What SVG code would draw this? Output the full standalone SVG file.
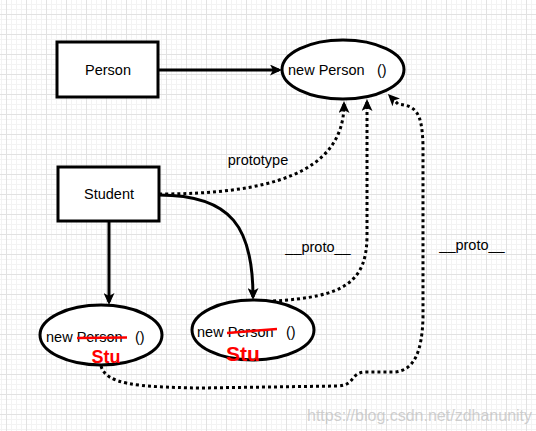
<svg xmlns="http://www.w3.org/2000/svg" width="536" height="431" viewBox="0 0 536 431">
<style>
.box{fill:#fff;stroke:#000;stroke-width:3}
.ell{fill:#fff;stroke:#000;stroke-width:3}
.lbl{font-family:"Liberation Sans",Arial,sans-serif;font-size:14.5px;fill:#000}
.solid{fill:none;stroke:#000;stroke-width:3}
.dot{fill:none;stroke:#000;stroke-width:3;stroke-dasharray:3 3}
.red{stroke:#f00;stroke-width:2.5;fill:none}
.hand{font-family:"Liberation Sans",Arial,sans-serif;font-weight:bold;fill:#f00}
</style>
<defs>
<pattern id="grid" patternUnits="userSpaceOnUse" x="6" y="14" width="20" height="20">
<path d="M5.5,0V20M10.5,0V20M15.5,0V20M0,5.5H20M0,10.5H20M0,15.5H20" stroke="#f3f3f3" stroke-width="1"/>
<path d="M0.5,0V20M0,0.5H20" stroke="#e2e2e2" stroke-width="1"/>
</pattern>
<marker id="arr" viewBox="0 0 12 11" refX="9" refY="5.5" markerWidth="12" markerHeight="11" orient="auto" markerUnits="userSpaceOnUse">
<path d="M0,0 L12,5.5 L0,11 L3,5.5 z" fill="#000"/>
</marker>
</defs>
<rect width="536" height="431" fill="#fff"/>
<rect width="536" height="431" fill="url(#grid)"/>

<g id="connectors">
<path class="solid" d="M158,70 L279,70" marker-end="url(#arr)"/>
<path class="dot" d="M159,194 C265,194 344,175 344,104" marker-end="url(#arr)"/>
<path class="solid" d="M109,221 L109,302" marker-end="url(#arr)"/>
<path class="solid" d="M159,195 C232,195 253,228 253,297" marker-end="url(#arr)"/>
<path class="dot" d="M273,301 C345,297 367,282 367,235 L367,102" marker-end="url(#arr)"/>
<path class="dot" d="M101,366 C106,384 135,387 200,388 L338,386 C356,385 350,372 366,372 L394,372 C414,371 422,352 423,318 L423,145 C422,112 416,106 398,104 L390,96" marker-end="url(#arr)"/>
<text class="lbl" x="258" y="165" text-anchor="middle">prototype</text>
<text class="lbl" x="318" y="252" text-anchor="middle">__proto__</text>
<text class="lbl" x="472" y="250" text-anchor="middle">__proto__</text>
</g>

<g id="person">
<rect class="box" x="57" y="42" width="101" height="55"/>
<text class="lbl" x="108" y="75" text-anchor="middle">Person</text>
</g>

<g id="newPerson">
<ellipse class="ell" cx="343" cy="69.5" rx="61" ry="29.5"/>
<text class="lbl" x="288" y="75">new Person <tspan x="377">()</tspan></text>
</g>

<g id="student">
<rect class="box" x="58" y="167" width="101" height="54"/>
<text class="lbl" x="109" y="199" text-anchor="middle">Student</text>
</g>

<g id="stu1">
<ellipse class="ell" cx="101" cy="335" rx="61" ry="30"/>
<text class="lbl" x="46" y="342">new Person <tspan x="135">()</tspan></text>
<path class="red" d="M77,338 L127,337.5"/>
<text class="hand" x="106" y="363" font-size="18" text-anchor="middle">Stu</text>
</g>

<g id="stu2">
<ellipse class="ell" cx="253" cy="330" rx="61" ry="30"/>
<text class="lbl" x="197" y="337">new Person <tspan x="286">()</tspan></text>
<path class="red" d="M227,333 L277,329"/>
<text class="hand" x="243" y="361" font-size="21" text-anchor="middle">Stu</text>
</g>

<text x="307" y="421" font-family="Liberation Sans,Arial,sans-serif" font-size="16" fill="#c0c0c0" fill-opacity="0.75">https://blog.csdn.net/zdhanunity</text>
</svg>
